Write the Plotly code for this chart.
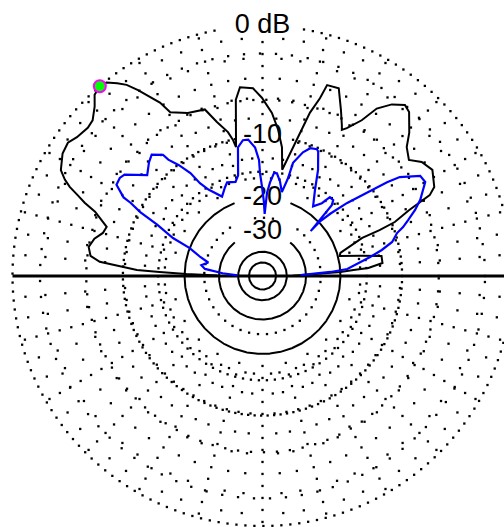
import numpy as np
import plotly.graph_objects as go

# Elevation pattern (elevation angle in degrees, gain in dB relative to the peak)
black_angle = [0.5, 1.5, 2.0, 2.9, 3.8, 4.3, 6.2, 9.5, 11.6, 14.5, 16.5, 18.5, 20.9, 21.4, 22.2, 24.2,
               25.4, 25.8, 27.4, 32.0, 35.6, 38.4, 41.8, 44.3, 48.2, 50.2, 53.0, 55.7, 57.5, 60.3, 61.5,
               62.2, 64.7, 67.9, 71.3, 72.1, 73.8, 75.3, 76.7, 78.7, 79.5, 81.4, 83.9, 86.7, 90.2, 92.9,
               96.8, 98.6, 100.0, 101.6, 102.2, 103.5, 106.5, 109.1, 114.6, 119.4, 120.6, 122.1, 123.8,
               125.4, 127.0, 128.9, 130.6, 132.8, 134.7, 137.5, 139.7, 143.2, 145.6, 148.5, 152.3, 154.0,
               155.2, 156.4, 157.6, 159.0, 160.8, 162.5, 164.9, 167.5, 170.5, 173.3, 175.0, 175.8, 177.3,
               177.8, 178.5, 179.3]
black_db = [-36.4, -31.5, -25.1, -20.0, -17.3, -14.7, -12.5, -12.5, -15.7, -19.6, -19.3, -17.3, -14.6,
            -11.8, -9.6, -7.6, -5.8, -5.1, -4.4, -3.8, -4.2, -5.0, -4.4, -3.4, -2.2, -2.0, -2.6, -3.6,
            -5.2, -6.6, -7.0, -6.6, -5.3, -3.6, -3.7, -5.0, -6.6, -9.0, -10.8, -13.3, -14.4, -11.2, -9.1,
            -7.3, -5.8, -4.9, -4.7, -5.8, -8.4, -11.0, -10.1, -9.0, -7.6, -6.0, -5.7, -4.9, -3.7, -2.9,
            -1.9, -1.1, -0.6, -0.1, 0.0, -0.2, -0.8, -1.4, -1.5, -1.3, -1.0, -1.1, -1.6, -2.2, -2.8, -3.7,
            -4.5, -5.7, -6.6, -7.3, -7.1, -6.4, -6.0, -6.3, -7.3, -8.8, -11.8, -15.2, -20.4, -29.4]

blue_angle = [1.5, 3.4, 4.7, 7.6, 10.0, 12.3, 14.7, 17.7, 19.2, 21.0, 23.4, 25.8, 28.2, 30.0, 32.4, 35.8,
              37.0, 38.5, 40.8, 42.5, 43.5, 43.0, 44.2, 44.8, 45.6, 47.0, 49.5, 50.8, 54.0, 58.6, 62.4,
              65.9, 66.8, 69.5, 71.9, 74.9, 75.4, 77.0, 79.5, 82.0, 83.6, 85.4, 86.9, 88.0, 89.0, 90.3,
              91.4, 91.7, 93.3, 96.0, 98.2, 100.8, 103.6, 106.0, 110.7, 113.0, 117.0, 122.0, 124.0, 125.0,
              127.0, 129.0, 129.4, 132.4, 135.0, 138.8, 143.7, 145.5, 148.0, 150.5, 151.0, 152.4, 154.0,
              157.0, 159.0, 163.0, 166.0, 170.0, 173.0, 176.0, 178.5]
blue_db = [-32.3, -22.3, -18.5, -16.1, -14.2, -12.3, -10.7, -9.8, -8.9, -8.1, -7.0, -6.1, -5.4, -4.9,
           -5.0, -6.7, -8.1, -10.8, -13.8, -17.0, -19.6, -22.9, -20.2, -17.9, -15.9, -15.1, -15.1, -16.8,
           -18.3, -15.6, -12.6, -10.4, -10.2, -10.4, -11.2, -13.0, -15.6, -18.3, -16.4, -15.1, -15.1,
           -16.8, -18.9, -23.9, -20.7, -17.7, -15.2, -13.2, -11.4, -10.3, -10.3, -11.1, -15.1, -16.1,
           -15.7, -16.4, -17.7, -15.4, -13.8, -11.8, -10.1, -8.8, -8.0, -7.2, -7.6, -8.4, -6.5, -6.3,
           -6.4, -7.7, -8.7, -10.2, -13.0, -16.2, -20.0, -23.1, -25.7, -23.9, -25.1, -31.5, -39.5]

# Grid of the ARRL log scale
dotted_ring_db = [0, -2, -6, -10, -15, -25]
dotted_ring_spacing = [9, 16, 13, 6.5, 8, 9]      # dot pitch along each ring, px
solid_ring_db = [-20, -30, -40, -50]
spoke_step = 5                                      # degrees between radial spokes
label_text = ["0 dB", "-10", "-20", "-30"]
label_db = [0, -10, -20, -30]

PX = 250.0          # pixels per unit radius (0 dB ring)


def arrl(db):
    """ARRL log scale: radius shrinks by 0.89 for every 2 dB."""
    return np.power(0.89, -np.asarray(db, dtype=float) / 2.0)


def to_xy(db, angle):
    r = arrl(db)
    t = np.radians(np.asarray(angle, dtype=float))
    return r * np.cos(t), r * np.sin(t)


# clear boxes around the labels (unit-radius coordinates)
label_r = arrl(label_db)
label_halfwidth = [0.165, 0.11, 0.11, 0.11]
label_halfheight = 0.05


def outside_labels(x, y):
    keep = np.ones_like(x, dtype=bool)
    for yc, hw in zip(label_r, label_halfwidth):
        keep &= ~((np.abs(x) < hw) & (np.abs(y - yc) < label_halfheight))
    return keep


fig = go.Figure()

# dotted rings and dotted spokes, drawn as small square dots
gx, gy = [], []
for db, pitch in zip(dotted_ring_db, dotted_ring_spacing):
    r = float(arrl(db))
    step = pitch / (r * PX)
    t = np.arange(0, 2 * np.pi, step)
    gx.append(r * np.cos(t))
    gy.append(r * np.sin(t))
r_in = float(arrl(-20))
for a in range(spoke_step, 360, spoke_step):
    if a == 180:
        continue
    pitch = 12 if a % 15 == 0 else 20
    rr = np.arange(r_in + pitch / PX, 1.0, pitch / PX)
    gx.append(rr * np.cos(np.radians(a)))
    gy.append(rr * np.sin(np.radians(a)))
gx = np.concatenate(gx)
gy = np.concatenate(gy)
keep = outside_labels(gx, gy)
fig.add_trace(go.Scatter(x=gx[keep], y=gy[keep], mode="markers",
                         marker=dict(symbol="square", size=2.3, color="black", line=dict(width=0)),
                         hoverinfo="skip"))

# solid rings
ring_t = np.linspace(0, 2 * np.pi, 721)
for db in solid_ring_db:
    r = float(arrl(db))
    x, y = r * np.cos(ring_t), r * np.sin(ring_t)
    k = outside_labels(x, y)
    fig.add_trace(go.Scatter(x=np.where(k, x, None), y=np.where(k, y, None), mode="lines",
                             line=dict(color="black", width=2), hoverinfo="skip"))

# horizon line
fig.add_trace(go.Scatter(x=[-1, 1], y=[0, 0], mode="lines",
                         line=dict(color="black", width=3), hoverinfo="skip"))

# dB labels
fig.add_trace(go.Scatter(x=[0] * len(label_text), y=label_r, mode="text", text=label_text,
                         textposition="middle center",
                         textfont=dict(family="Liberation Sans, Arial", size=27, color="black"),
                         hoverinfo="skip"))

# pattern traces
bx, by = to_xy(black_db, black_angle)
fig.add_trace(go.Scatter(x=bx, y=by, mode="lines", line=dict(color="black", width=2)))
ux, uy = to_xy(blue_db, blue_angle)
fig.add_trace(go.Scatter(x=ux, y=uy, mode="lines", line=dict(color="#0000ff", width=2.2)))

# cursor at the pattern maximum
peak = int(np.argmax(black_db))
px_, py_ = to_xy([black_db[peak]], [black_angle[peak]])
fig.add_trace(go.Scatter(x=px_, y=py_, mode="markers",
                         marker=dict(size=12, color="#00ff00", line=dict(color="#ff00ff", width=2)),
                         cliponaxis=False))

W, H = 504, 527
cx, cy = 262.5, 276.0   # centre of the pattern, px from left / top
fig.update_layout(
    width=W, height=H, margin=dict(l=0, r=0, t=0, b=0, pad=0), showlegend=False,
    paper_bgcolor="white", plot_bgcolor="white",
    xaxis=dict(visible=False, range=[-cx / PX, (W - cx) / PX], fixedrange=True),
    yaxis=dict(visible=False, range=[-(H - cy) / PX, cy / PX], fixedrange=True),
)
fig.write_html("out.html")
